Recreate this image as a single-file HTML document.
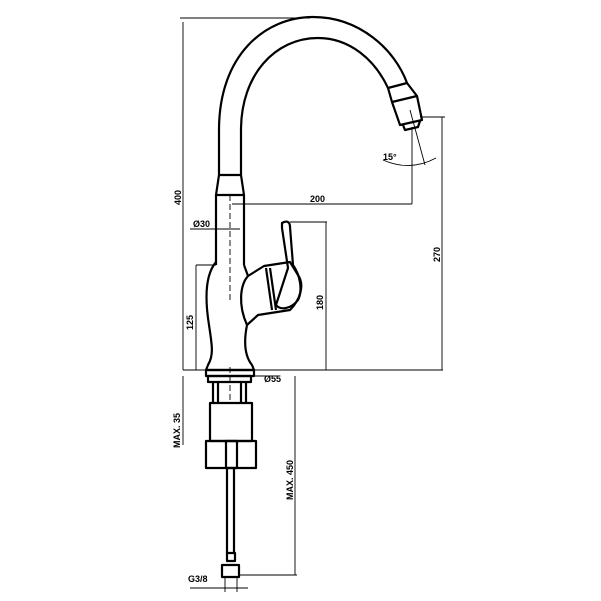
<!DOCTYPE html>
<html><head><style>body{margin:0;background:#fff}svg{display:block}text{font-family:"Liberation Sans",sans-serif;font-weight:bold;font-size:9px;fill:#000}</style></head>
<body>
<svg width="601" height="601" viewBox="0 0 601 601" xmlns="http://www.w3.org/2000/svg">
<g fill="none" stroke="#000" stroke-width="2.2" stroke-linejoin="round">
<!-- spout -->
<path d="M219 175 L219 130 C219 55 265 17 313 17 C360 17 395 50 407 83"/>
<path d="M241 175 L241 130 C241 75 275 38 318 38 C350 38 375 60 388 88"/>
<path d="M388 88 L407 83 L417 96 L422 120 L400 125 L392 102 Z"/>
<path d="M392 102 L417 96"/>
<path d="M403 125 L405 130 L418 127 L420 121"/>
<!-- column -->
<path d="M219 175 L241 175 L244 195 L244 265 M219 175 L216 195 L216 265 M216 195 L244 195"/>
<!-- body -->
<path d="M216 262 C205 275 205 300 209 325 C212 345 214 355 208 365 L206 370 L254 370 L252 365 C244 355 244 340 247 325 L258 315 L290 310 C300 300 305 285 298 275 L290 262 L264 266 L248 276 L244 265"/>
<path d="M248 276 C240 285 238 305 247 325"/>
<path d="M270 268 L276 310 M266 268 L272 310"/>
<!-- lever -->
<path d="M282 223 C287 220 290 222 290 227 L293 265 C300 275 303 290 298 300 C290 310 280 310 276 305 L288 268 L282 228 Z"/>
<!-- base -->
<rect x="206" y="370" width="48" height="6"/>
<rect x="208" y="376" width="43" height="6"/>
<path d="M213 382 L213 402 M246 382 L246 402 M218 382 L218 402 M241 382 L241 402"/>
<rect x="210" y="403" width="42" height="38"/>
<rect x="206" y="441" width="50" height="27"/>
<rect x="226" y="441" width="11" height="27"/>
<path d="M227 468 L227 553 M234 468 L234 553"/>
<rect x="227" y="553" width="8" height="8"/>
<rect x="222" y="565" width="17" height="12"/>
</g>
<g stroke="#000" stroke-width="0.9" fill="none">
<path d="M180 18 L310 18 M183 22 L183 370 M183 370 L443 370"/>
<path d="M232 204 L412 204 M412 127 L412 204"/>
<path d="M442 117 L442 370 M420 117 L445 117"/>
<path d="M290 222 L327 222 M326 222 L326 370"/>
<path d="M196 265 L216 265 M196 265 L196 370"/>
<path d="M190 229 L240 229"/>
<path d="M183 376 L183 445"/>
<path d="M240 376 L280 376 M295 376 L295 575 M240 575 L297 575"/>
<path d="M225 577 L225 592 M237 577 L237 592 M190 588 L248 588"/>
<path d="M230 367 L230 400 M230 300 L230 195" stroke-dasharray="6,3"/>
<path d="M410 110 L425 165 M383 160 Q410 172 436 158"/>
</g>
<text x="310" y="202">200</text>
<text x="193" y="227" font-size="8">Ø30</text>
<text x="264" y="382" font-size="8">Ø55</text>
<text x="188" y="582" font-size="8">G3/8</text>
<text x="383" y="160" font-size="8">15°</text>
<text transform="translate(181,205) rotate(-90)">400</text>
<text transform="translate(193,330) rotate(-90)">125</text>
<text transform="translate(323,310) rotate(-90)">180</text>
<text transform="translate(440,262) rotate(-90)">270</text>
<text transform="translate(180,448) rotate(-90)">MAX. 35</text>
<text transform="translate(293,500) rotate(-90)">MAX. 450</text>
</svg>
</body></html>
